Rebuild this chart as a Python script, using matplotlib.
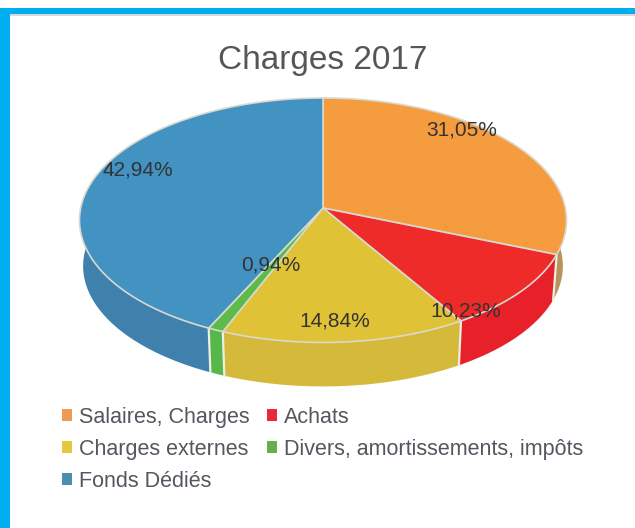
import numpy as np
import matplotlib.pyplot as plt
from matplotlib.patches import Patch, Polygon, Rectangle

categories = ["Salaires, Charges", "Achats", "Charges externes",
              "Divers, amortissements, impôts", "Fonds Dédiés"]
values = [31.05, 10.23, 14.84, 0.94, 42.94]
top_colors = ["#f59c3e", "#ee2b29", "#dfc236", "#5cbb4b", "#4292c2"]
side_colors = ["#b9935c", "#e8202a", "#d5b93a", "#55b848", "#3f80ac"]
legend_colors = ["#ee9c55", "#e8283c", "#e6c840", "#66b04c", "#4a8fb0"]

# pie geometry, in pixels of the 635x528 picture
APEX_X, APEX_Y = 323, 208
SX, SY, K = 242.3, 121, 0.1  # K = perspective strength
DEPTH = 46
BOTTOM_SCALE = 0.985
EDGE = "#d9d9d0"


def project(angle, r=1.0, scale=1.0, dy=0.0):
    # angle in radians, clockwise from the top of the disc
    u = r * np.sin(angle)
    v = -r * np.cos(angle)
    d = 1 - K * v
    return (APEX_X + scale * SX * u / d, APEX_Y + scale * SY * v / d + dy)


plt.rcParams['font.family'] = ['Liberation Sans', 'DejaVu Sans']
fig = plt.figure(figsize=(6.35, 5.28), dpi=100)
ax = fig.add_axes([0, 0, 1, 1])
ax.set_xlim(0, 635)
ax.set_ylim(528, 0)
ax.axis('off')

# page frame
ax.add_patch(Rectangle((0, 8), 635, 6, color="#00aeef", lw=0))
ax.add_patch(Rectangle((0, 8), 10, 520, color="#00aeef", lw=0))
ax.add_patch(Rectangle((10, 14), 625, 1.5, color="#d8d8d8", lw=0))

edges = np.radians(np.cumsum([0] + values) * 3.6)

# side walls first, the top face covers the hidden part
for i in range(len(values)):
    t = np.linspace(edges[i], edges[i + 1], 120)
    x0, y0 = project(t)
    x1, y1 = project(t, scale=BOTTOM_SCALE, dy=DEPTH)
    pts = np.column_stack([np.r_[x0, x1[::-1]], np.r_[y0, y1[::-1]]])
    ax.add_patch(Polygon(pts, closed=True, fc=side_colors[i], ec="none", zorder=2))

# wall separators on the front of the pie
for a in edges[1:5]:
    x0, y0 = project(a)
    x1, y1 = project(a, scale=BOTTOM_SCALE, dy=DEPTH)
    ax.plot([x0, x1], [y0, y1], color="#eeeee6", lw=1.6, zorder=3)

# top faces
for i in range(len(values)):
    t = np.linspace(edges[i], edges[i + 1], 120)
    x0, y0 = project(t)
    pts = np.column_stack([np.r_[APEX_X, x0], np.r_[APEX_Y, y0]])
    ax.add_patch(Polygon(pts, closed=True, fc=top_colors[i], ec=EDGE, lw=1.2,
                         joinstyle='round', zorder=4))

ax.text(323, 60, "Charges 2017", ha='center', va='center', fontsize=24,
        color="#565656", zorder=6)

# percent labels
label_pos = [(462, 130), (466, 311), (335, 321), (271, 265), (138, 170)]
for v, (lx, ly) in zip(values, label_pos):
    ax.text(lx, ly, f"{v:.2f}%".replace(".", ","), ha='center', va='center',
            fontsize=15, color="#333333", zorder=6)

# ncol=2 fills column by column
order = [0, 2, 4, 1, 3]
handles = [Patch(fc=legend_colors[i], ec="none", label=categories[i]) for i in order]
ax.legend(handles=handles, ncol=2, loc='upper left',
          bbox_to_anchor=(57.7 / 635, 1 - 402.7 / 528), frameon=False,
          fontsize=15.5, labelcolor="#565660", handlelength=0.47, handleheight=0.47,
          handletextpad=0.33, columnspacing=0.8, labelspacing=0.51,
          borderpad=0.2, borderaxespad=0)

fig.savefig("out.png", dpi=100)
